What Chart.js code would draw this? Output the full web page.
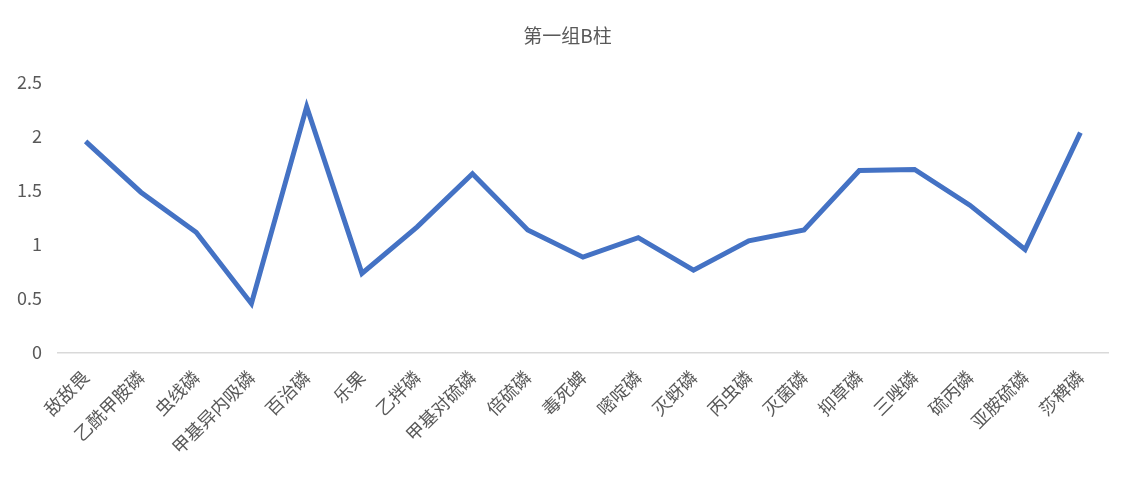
<!DOCTYPE html>
<html>
<head>
<meta charset="utf-8">
<script src="https://cdn.jsdelivr.net/npm/chart.js@4/dist/chart.umd.min.js"></script>
<style>
  body { margin: 0; background: #fff; }
  #wrap { width: 1135px; height: 491px; }
</style>
</head>
<body>
<div id="wrap"><canvas id="lineChart"></canvas></div>
<script>
// 数据
const categories = ['敌敌畏', '乙酰甲胺磷', '虫线磷', '甲基异内吸磷', '百治磷', '乐果', '乙拌磷', '甲基对硫磷', '倍硫磷', '毒死蜱',
    '嘧啶磷', '灭蚜磷', '丙虫磷', '灭菌磷', '抑草磷', '三唑磷', '硫丙磷', '亚胺硫磷', '莎稗磷'];
const seriesB = [1.95, 1.48, 1.11, 0.45, 2.27, 0.73, 1.16, 1.65, 1.13, 0.88,
    1.06, 0.76, 1.03, 1.13, 1.68, 1.69, 1.36, 0.95, 2.03];
const yTicks = [0, 0.5, 1, 1.5, 2, 2.5];

const fontFamily = "'Noto Sans CJK SC', 'Noto Sans', sans-serif";

// 标题居中于整个画布
const centerTitle = {
    id: 'centerTitle',
    afterLayout(chart) {
        if (chart.titleBlock) {
            chart.titleBlock.left = 0;
            chart.titleBlock.right = chart.width;
        }
    }
};

new Chart(document.getElementById('lineChart'), {
    type: 'line',
    data: {
        labels: categories,
        datasets: [{
            label: '第一组B柱',
            data: seriesB,
            borderColor: '#4472C4',
            borderWidth: 5,
            pointRadius: 0,
            tension: 0,
            fill: false
        }]
    },
    options: {
        responsive: true,
        maintainAspectRatio: false,
        animation: false,
        layout: { padding: { left: 1, right: 27, top: 14, bottom: 19 } },
        plugins: {
            legend: { display: false },
            tooltip: { enabled: false },
            title: {
                display: true,
                text: '第一组B柱',
                color: '#595959',
                font: { family: fontFamily, size: 19, weight: 'normal' },
                padding: { top: 10, bottom: 35 }
            }
        },
        scales: {
            x: {
                offset: true,
                grid: { display: false, drawTicks: false },
                border: { display: true, color: '#d9d9d9', width: 1.5 },
                ticks: {
                    color: '#595959',
                    font: { family: fontFamily, size: 18 },
                    minRotation: 45,
                    maxRotation: 45,
                    autoSkip: false,
                    padding: 14
                }
            },
            y: {
                min: 0,
                max: 2.5,
                afterBuildTicks: axis => { axis.ticks = yTicks.map(v => ({ value: v })); },
                grid: { display: false, drawTicks: false },
                border: { display: false },
                ticks: {
                    color: '#595959',
                    font: { family: fontFamily, size: 18 },
                    padding: 16,
                    callback: v => String(v)
                }
            }
        }
    },
    plugins: [centerTitle]
});
</script>
</body>
</html>
